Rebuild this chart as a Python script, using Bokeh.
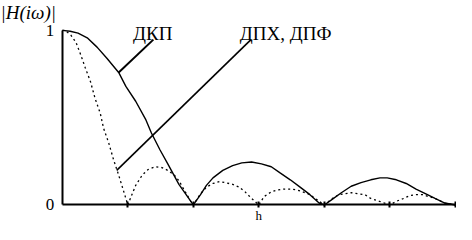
from bokeh.plotting import figure
from bokeh.models import Label, FixedTicker, Range1d, LinearAxis
from bokeh.embed import file_html
from bokeh.resources import INLINE

# ДКП (solid) magnitude response
dkp_x = [0.0, 0.12, 0.24, 0.38, 0.53, 0.68, 0.86, 0.97, 1.12, 1.27, 1.36, 1.49, 1.61, 1.78, 2.0,
         2.11, 2.20, 2.30, 2.45, 2.60, 2.74, 2.89, 3.04, 3.19, 3.33, 3.48, 3.63, 3.78, 3.92, 4.0,
         4.12, 4.26, 4.41, 4.56, 4.71, 4.85, 4.96, 5.10, 5.25, 5.40, 5.55, 5.69, 5.84, 6.0]
dkp_y = [1.0, 0.995, 0.984, 0.957, 0.904, 0.840, 0.759, 0.679, 0.594, 0.492, 0.412, 0.316, 0.235, 0.118, 0.0,
         0.059, 0.112, 0.155, 0.198, 0.225, 0.241, 0.246, 0.235, 0.219, 0.182, 0.144, 0.102, 0.059, 0.011, 0.0,
         0.032, 0.070, 0.107, 0.128, 0.144, 0.155, 0.155, 0.144, 0.123, 0.091, 0.064, 0.037, 0.011, 0.0]

# ДПХ, ДПФ (dotted) magnitude response
dpf_x = [0.0, 0.04, 0.13, 0.21, 0.28, 0.35, 0.43, 0.50, 0.58, 0.63, 0.71, 0.78, 0.86, 0.93, 1.0,
         1.05, 1.12, 1.22, 1.31, 1.42, 1.52, 1.61, 1.71, 1.78, 1.86, 1.96, 2.0,
         2.11, 2.20, 2.30, 2.40, 2.49, 2.60, 2.70, 2.79, 2.89, 3.0,
         3.08, 3.19, 3.29, 3.38, 3.48, 3.58, 3.67, 3.78, 3.88, 4.0,
         4.12, 4.22, 4.32, 4.41, 4.51, 4.62, 4.71, 4.84, 5.0,
         5.10, 5.21, 5.30, 5.40, 5.50, 5.59, 5.69, 5.84, 6.0]
dpf_y = [1.0, 1.0, 0.973, 0.930, 0.861, 0.786, 0.706, 0.610, 0.524, 0.439, 0.353, 0.262, 0.171, 0.086, 0.0,
         0.048, 0.112, 0.171, 0.203, 0.219, 0.214, 0.198, 0.171, 0.139, 0.086, 0.021, 0.0,
         0.064, 0.102, 0.123, 0.134, 0.128, 0.118, 0.102, 0.075, 0.037, 0.0,
         0.048, 0.075, 0.086, 0.091, 0.091, 0.086, 0.075, 0.059, 0.032, 0.0,
         0.037, 0.059, 0.064, 0.070, 0.064, 0.059, 0.037, 0.021, 0.0,
         0.021, 0.037, 0.053, 0.059, 0.059, 0.048, 0.037, 0.011, 0.0]

series_names = ["ДКП", "ДПХ, ДПФ"]
y_ticks = [0, 1]
y_tick_labels = ["0", "1"]
x_ticks = [1, 2, 3, 4, 5, 6]
y_title = "|H(iω)|"
x_title = "h"

# callout label anchors and leader ends (data units)
label_pos = [(1.08, 0.984), (2.71, 0.984)]
leader_start = [(1.39, 0.947), (2.88, 0.947)]
leader_end = [(0.86, 0.759), (0.83, 0.198)]

FONT = "Liberation Serif"

p = figure(width=456, height=224, output_backend="svg", toolbar_location=None,
           x_range=Range1d(-0.944, 6.018), y_range=Range1d(-0.112, 1.171),
           x_axis_location=None, y_axis_location=None,
           min_border=0)
p.background_fill_color = "white"
p.border_fill_color = "white"
p.outline_line_color = None
p.grid.visible = False

xa = LinearAxis(fixed_location=0, bounds=(0, 6.02))
xa.ticker = FixedTicker(ticks=x_ticks)
xa.major_label_overrides = {t: "" for t in x_ticks}
xa.major_label_text_font_size = "1px"
xa.major_label_standoff = 0
xa.major_tick_in = 3
xa.major_tick_out = 3
xa.major_tick_line_width = 2
xa.minor_tick_line_color = None
xa.axis_line_width = 2
xa.axis_line_color = "black"
p.add_layout(xa, "below")

ya = LinearAxis(fixed_location=0, bounds=(0, 1.0))
ya.ticker = FixedTicker(ticks=y_ticks)
ya.major_label_overrides = {t: s for t, s in zip(y_ticks, y_tick_labels)}
ya.major_label_text_font = FONT
ya.major_label_text_font_size = "17px"
ya.major_label_text_color = "black"
ya.major_label_standoff = 8
ya.major_tick_in = 0
ya.major_tick_out = 0
ya.minor_tick_line_color = None
ya.axis_line_width = 2
ya.axis_line_color = "black"
p.add_layout(ya, "left")

p.line(dkp_x, dkp_y, line_color="black", line_width=1.4)
p.line(dpf_x, dpf_y, line_color="black", line_width=1.3, line_dash="2 3")

widths = [2, 1.6]
for (x0, y0), (x1, y1), w in zip(leader_start, leader_end, widths):
    p.line([x0, x1], [y0, y1], line_color="black", line_width=w)

for (lx, ly), name in zip(label_pos, series_names):
    p.add_layout(Label(x=lx, y=ly, text=name, text_font=FONT, text_font_size="19px",
                       text_color="black", text_baseline="alphabetic"))

p.add_layout(Label(x=-0.944, y=1.10, text=y_title, text_font=FONT, text_font_size="19px",
                   text_font_style="italic", text_color="black", text_baseline="alphabetic"))
p.add_layout(Label(x=3.0, y=-0.105, text=x_title, text_font=FONT, text_font_size="13px",
                   text_color="black", text_align="center", text_baseline="bottom"))

open("out.html", "w").write(file_html(p, INLINE))
